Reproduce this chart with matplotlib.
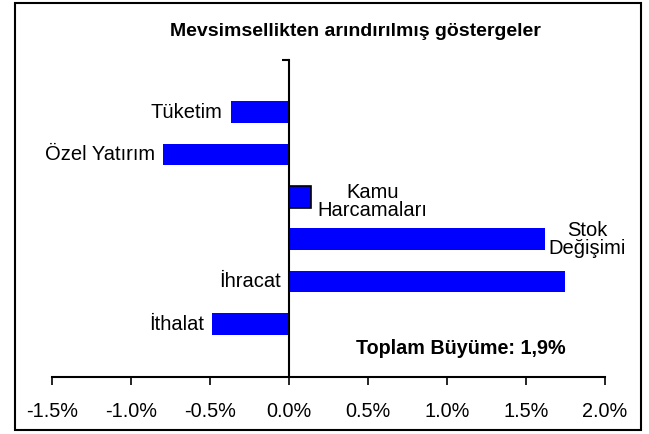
import matplotlib.pyplot as plt
from matplotlib.patches import Rectangle

plt.rcParams['font.family'] = ['Liberation Sans', 'DejaVu Sans']

# values in percent, top to bottom
categories = ["Tüketim", "Özel Yatırım", "Kamu\nHarcamaları", "Stok\nDeğişimi", "İhracat", "İthalat"]
values = [-0.37, -0.80, 0.14, 1.62, 1.75, -0.49]
xticks = [-1.5, -1.0, -0.5, 0.0, 0.5, 1.0, 1.5, 2.0]
title = "Mevsimsellikten arındırılmış göstergeler"
total_note = "Toplam Büyüme: 1,9%"

fig = plt.figure(figsize=(6.49, 4.34), dpi=100)
ax = fig.add_axes([0.0801, 0.1313, 0.852, 0.730])

pos = list(range(len(values)))
bars = ax.barh(pos, values, height=0.51, color="#0000ff", edgecolor="none", zorder=2)
# the small one gets an outline
bars[2].set_edgecolor("black")
bars[2].set_linewidth(1.2)

ax.set_xlim(-1.5, 2.0)
ax.set_ylim(6.25, -1.226)

# labels next to the bars
fs = 14.5
for i, (lab, v) in enumerate(zip(categories, values)):
    if i == 2:
        ax.text(0.53, i + 0.1, lab, ha="center", va="center", fontsize=fs, linespacing=0.95)
    elif i == 3:
        ax.text(1.89, i, lab, ha="center", va="center", fontsize=fs, linespacing=0.95)
    elif i == 4:
        ax.text(-0.05, i, lab, ha="right", va="center", fontsize=fs)
    else:
        ax.text(v - 0.05, i, lab, ha="right", va="center", fontsize=fs)

ax.text(1.09, 5.57, total_note, ha="center", va="center", fontsize=14.2, fontweight="bold")

# axes styling: value axis at bottom, category axis through zero
for s in ["top", "right"]:
    ax.spines[s].set_visible(False)
ax.spines["left"].set_position(("data", 0))
ax.spines["left"].set_linewidth(1.5)
ax.spines["bottom"].set_linewidth(1.5)
ax.set_xticks(xticks)
ax.set_xticklabels([f"{t:.1f}%" for t in xticks], fontsize=14.3)
ax.tick_params(axis="x", direction="out", length=6, width=1.2, pad=12)
ax.set_yticks([-1.226])
ax.set_yticklabels([])
ax.tick_params(axis="y", direction="out", length=5, width=1.5)

fig.text(0.547, 0.928, title, ha="center", va="center", fontsize=14, fontweight="bold")

# outer chart frame
fig.patches.append(Rectangle((15 / 649, 1 - 430 / 434), 626 / 649, 427 / 434,
                             transform=fig.transFigure, fill=False,
                             edgecolor="black", linewidth=1.5))

fig.savefig("out.png", dpi=100)
